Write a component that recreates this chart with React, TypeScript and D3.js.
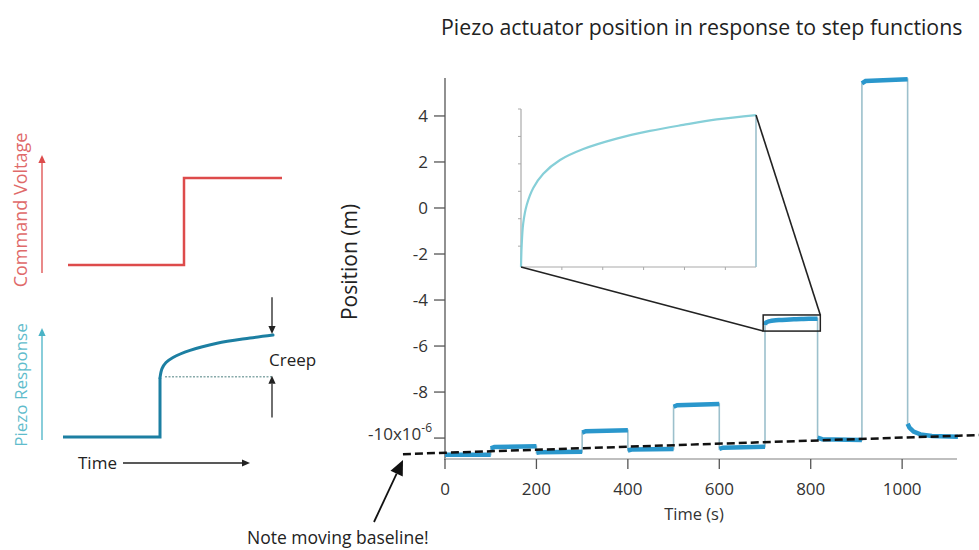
import React from 'react';
import * as d3 from 'd3';

const W = 979;
const H = 550;
const FONT = '"Open Sans", "Noto Sans", sans-serif';

// main chart axes: time (s), position (x10^-6 m)
const xTicks = [0, 200, 400, 600, 800, 1000];
const yTicks = [-10, -8, -6, -4, -2, 0, 2, 4];

// creep after the 700 s step (seconds after step, position µm) - shown in inset
const creepT = [0, 0.34, 1.1, 2.8, 6.0, 10.9, 19.1, 30.5, 46.8, 63.1, 79.4, 95.8, 115];
const creepV = [-5.088, -5.048, -5.008, -4.975, -4.944, -4.918, -4.893, -4.873, -4.854, -4.84, -4.829, -4.819, -4.811];
const insetTicksX = [20, 40, 60, 80, 100];
const insetTicksY = [-5.05, -5.0, -4.95, -4.9, -4.85, -4.8];

// plateaus of the measured trace
const segTimes = [
  [0, 100],
  [100, 108, 200],
  [200, 208, 300],
  [300, 308, 400],
  [400, 408, 500],
  [500, 508, 600],
  [600, 608, 700],
  creepT.map(t => 700 + t),
  [815, 825, 912],
  [912, 920, 1012],
  [1012, 1016, 1025, 1040, 1065, 1122],
];
const segValues = [
  [-10.72, -10.72],
  [-10.45, -10.39, -10.36],
  [-10.64, -10.62, -10.6],
  [-9.76, -9.7, -9.66],
  [-10.54, -10.5, -10.47],
  [-8.64, -8.57, -8.52],
  [-10.47, -10.42, -10.38],
  creepV,
  [-9.98, -10.05, -10.08],
  [5.42, 5.52, 5.6],
  [-9.38, -9.55, -9.72, -9.84, -9.91, -9.94],
];

// drifting baseline (dashed)
const baseT = [-92, 1168];
const baseV = [-10.7, -9.87];

// zoom box around the creep plateau
const boxT = [696, 821];
const boxV = [-5.35, -4.65];

// left schematic (arbitrary units)
const cmdT = [5, 121, 121, 219];
const cmdV = [0, 0, 1, 1];
const respStepT = [0, 97, 97];
const respStepV = [0, 0, 0.58];
const respCurveT = [97, 99, 103, 110, 127, 154, 187, 210];
const respCurveV = [0.58, 0.67, 0.73, 0.78, 0.85, 0.92, 0.97, 1.0];
const creepRefV = 0.59;

type P = [number, number];
const zip = (a: number[], b: number[]): P[] => a.map((v, i) => [v, b[i]]);

const Arrow = ({ x1, y1, x2, y2, color, head = 7, w = 1.5 }: any) => {
  const ang = Math.atan2(y2 - y1, x2 - x1);
  const bx = x2 - head * Math.cos(ang);
  const by = y2 - head * Math.sin(ang);
  const hw = head * 0.45;
  const pts = [
    [x2, y2],
    [bx + hw * Math.sin(ang), by - hw * Math.cos(ang)],
    [bx - hw * Math.sin(ang), by + hw * Math.cos(ang)],
  ];
  return (
    <g>
      <line x1={x1} y1={y1} x2={bx} y2={by} stroke={color} strokeWidth={w} />
      <polygon points={pts.map(p => p.join(',')).join(' ')} fill={color} />
    </g>
  );
};

export default function App() {
  const x = d3.scaleLinear().domain([0, 1120]).range([445, 957]);
  const y = d3.scaleLinear().domain([-10.91, 5.65]).range([459, 78]);

  const ix = d3.scaleLinear().domain([0, 115]).range([521, 756]);
  const iy = d3.scaleLinear().domain([-5.088, -4.8]).range([267, 109]);

  const sx = d3.scaleLinear().domain([0, 220]).range([63, 283]);
  const sCmd = d3.scaleLinear().domain([0, 1]).range([265, 178]);
  const sResp = d3.scaleLinear().domain([0, 1]).range([437, 335]);

  const line = d3.line<P>().x(d => x(d[0])).y(d => y(d[1]));
  const smooth = d3.line<P>().x(d => x(d[0])).y(d => y(d[1])).curve(d3.curveCatmullRom.alpha(0.5));
  const insetLine = d3.line<P>().x(d => ix(d[0])).y(d => iy(d[1])).curve(d3.curveCatmullRom.alpha(0.5));
  const cmdLine = d3.line<P>().x(d => sx(d[0])).y(d => sCmd(d[1]));
  const respLine = d3.line<P>().x(d => sx(d[0])).y(d => sResp(d[1]));
  const respCurve = d3.line<P>().x(d => sx(d[0])).y(d => sResp(d[1])).curve(d3.curveCatmullRom.alpha(0.5));

  const segs = segTimes.map((ts, i) => zip(ts, segValues[i]));
  const full = segs.flat();

  const red = '#dd4b4b';
  const teal = '#49b3c6';
  const respBlue = '#1c7fa2';
  const traceBlue = '#2a97cc';
  const thin = '#9cc0cc';

  const lastCreep = creepV[creepV.length - 1];

  return (
    <svg width={W} height={H} style={{ position: 'absolute', left: 0, top: 0, background: '#fff' }} fontFamily={FONT}>
      {/* title */}
      <text x={441} y={35} fontSize={21.3} fill="#222">Piezo actuator position in response to step functions</text>

      {/* ---------- left schematic ---------- */}
      <text transform={`translate(27,210) rotate(-90)`} textAnchor="middle" fontSize={18} fill="#df6a6a">Command Voltage</text>
      <Arrow x1={42} y1={273} x2={42} y2={155} color={red} head={8} w={1.3} />
      <path d={cmdLine(zip(cmdT, cmdV)) || ''} fill="none" stroke={red} strokeWidth={2.5} />

      <text transform={`translate(27,385) rotate(-90)`} textAnchor="middle" fontSize={17} fill="#5fbccc">Piezo Response</text>
      <Arrow x1={42} y1={440} x2={42} y2={328} color={teal} head={8} w={1.3} />
      <path d={respLine(zip(respStepT, respStepV)) || ''} fill="none" stroke={respBlue} strokeWidth={3} />
      <path d={respCurve(zip(respCurveT, respCurveV)) || ''} fill="none" stroke={respBlue} strokeWidth={3} strokeLinecap="round" />
      <line x1={sx(102)} x2={sx(210)} y1={sResp(creepRefV)} y2={sResp(creepRefV)} stroke="#8aa" strokeWidth={1.5} strokeDasharray="2 1.5" />
      <Arrow x1={sx(209)} y1={sResp(1.37)} x2={sx(209)} y2={sResp(1.01)} color="#222" head={8} w={1.3} />
      <Arrow x1={sx(209)} y1={sResp(0.19)} x2={sx(209)} y2={sResp(0.6)} color="#222" head={8} w={1.3} />
      <text x={269} y={366} fontSize={17} fill="#222">Creep</text>
      <text x={78} y={469} fontSize={17} fill="#222">Time</text>
      <Arrow x1={123} y1={463} x2={250} y2={463} color="#222" head={8} w={1.3} />

      {/* ---------- main chart axes ---------- */}
      <line x1={445} x2={445} y1={78} y2={460} stroke="#555" strokeWidth={1.3} />
      {yTicks.map(t => (
        <g key={t}>
          <line x1={434} x2={445} y1={y(t)} y2={y(t)} stroke="#555" strokeWidth={1.3} />
          {t === -10 ? (
            <text x={432} y={y(t) + 2} textAnchor="end" fontSize={17} fill="#333">
              -10x10<tspan dy={-8} fontSize={12}>-6</tspan>
            </text>
          ) : (
            <text x={428} y={y(t) + 6} textAnchor="end" fontSize={17} fill="#333">{t}</text>
          )}
        </g>
      ))}
      <line x1={445} x2={957} y1={459} y2={459} stroke="#aaa" strokeWidth={1.3} />
      {xTicks.map(t => (
        <g key={t}>
          <line x1={x(t)} x2={x(t)} y1={459} y2={469} stroke="#555" strokeWidth={1.3} />
          <text x={x(t)} y={495} textAnchor="middle" fontSize={17} fill="#333">{t}</text>
        </g>
      ))}
      <text x={694} y={520} textAnchor="middle" fontSize={16.5} fill="#333">Time (s)</text>
      <text transform={`translate(357,262) rotate(-90)`} textAnchor="middle" fontSize={21} fill="#222">Position (m)</text>

      {/* ---------- trace ---------- */}
      <path d={line(full) || ''} fill="none" stroke={thin} strokeWidth={1.6} />
      {segs.map((s, i) => (
        <path key={i} d={(i === 7 ? smooth(s) : line(s)) || ''}
          fill="none" stroke={traceBlue} strokeWidth={4.5} strokeLinecap="butt" />
      ))}

      {/* baseline */}
      <path d={line(zip(baseT, baseV)) || ''} fill="none" stroke="#111" strokeWidth={2.5} strokeDasharray="8 4" />

      {/* zoom box */}
      <rect x={x(boxT[0])} y={y(boxV[1])} width={x(boxT[1]) - x(boxT[0])} height={y(boxV[0]) - y(boxV[1])}
        fill="none" stroke="#222" strokeWidth={1.5} />

      {/* ---------- inset ---------- */}
      <line x1={ix(0)} x2={ix(0)} y1={iy(-4.8)} y2={iy(-5.088)} stroke="#aaa" strokeWidth={1.2} />
      {insetTicksY.map(t => (
        <line key={t} x1={ix(0) - 3} x2={ix(0)} y1={iy(t)} y2={iy(t)} stroke="#aaa" strokeWidth={1} />
      ))}
      <line x1={ix(0)} x2={ix(115)} y1={iy(-5.088)} y2={iy(-5.088)} stroke="#aaa" strokeWidth={1.2} />
      {insetTicksX.map(t => (
        <line key={t} x1={ix(t)} x2={ix(t)} y1={iy(-5.088)} y2={iy(-5.088) + 3} stroke="#aaa" strokeWidth={1} />
      ))}
      <line x1={ix(115)} x2={ix(115)} y1={iy(lastCreep)} y2={iy(-5.088)} stroke={thin} strokeWidth={1.6} />
      <path d={insetLine(zip(creepT, creepV)) || ''} fill="none" stroke="#86cfd8" strokeWidth={2.2} />

      {/* connectors */}
      <line x1={ix(0)} y1={iy(-5.088)} x2={x(boxT[0])} y2={y(boxV[0])} stroke="#222" strokeWidth={1.6} />
      <line x1={ix(115)} y1={iy(lastCreep)} x2={x(boxT[1])} y2={y(boxV[1])} stroke="#222" strokeWidth={1.6} />

      {/* note */}
      <Arrow x1={374} y1={522} x2={403} y2={460} color="#111" head={15} w={1.8} />
      <text x={247} y={544} fontSize={17.5} fill="#222">Note moving baseline!</text>
    </svg>
  );
}
